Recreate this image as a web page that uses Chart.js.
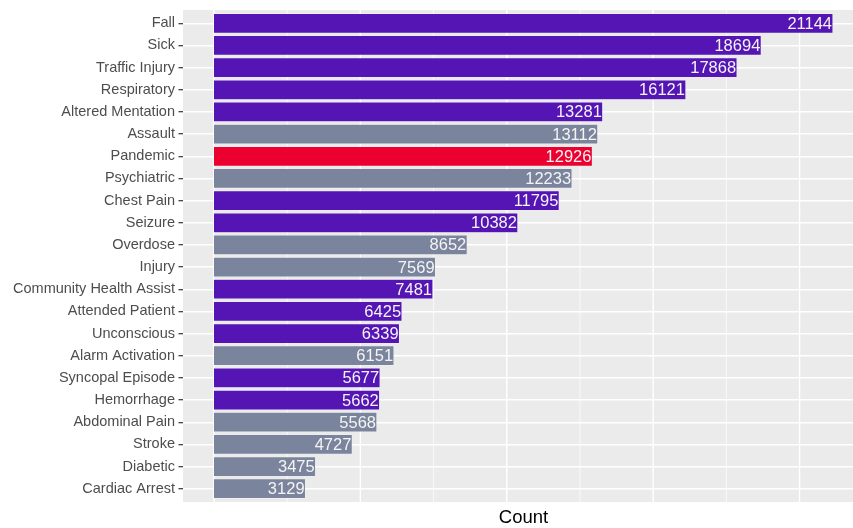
<!DOCTYPE html>
<html>
<head>
<meta charset="utf-8">
<script src="https://cdn.jsdelivr.net/npm/chart.js@4"></script>
<style>
  html, body { margin: 0; padding: 0; background: #fff; overflow: hidden; }
  #wrap { width: 864px; height: 528px; }
</style>
</head>
<body>
<div id="wrap"><canvas id="chart"></canvas></div>
<script>
const categories = ['Fall', 'Sick', 'Traffic Injury', 'Respiratory', 'Altered Mentation', 'Assault',
  'Pandemic', 'Psychiatric', 'Chest Pain', 'Seizure', 'Overdose', 'Injury', 'Community Health Assist',
  'Attended Patient', 'Unconscious', 'Alarm Activation', 'Syncopal Episode', 'Hemorrhage',
  'Abdominal Pain', 'Stroke', 'Diabetic', 'Cardiac Arrest'];
const counts = [21144, 18694, 17868, 16121, 13281, 13112, 12926, 12233, 11795, 10382, 8652, 7569,
  7481, 6425, 6339, 6151, 5677, 5662, 5568, 4727, 3475, 3129];
const groups = ['p', 'p', 'p', 'p', 'p', 'g', 'r', 'g', 'p', 'p', 'g', 'g',
  'p', 'p', 'p', 'g', 'p', 'p', 'g', 'g', 'g', 'g'];
const gridValues = [0, 2500, 5000, 7500, 10000, 12500, 15000, 17500, 20000];

const groupColors = { p: '#5514B4', g: '#7B849D', r: '#EB0030' };
const PANEL = '#EBEBEB';
const ROW_PAD = 2.2; // extra ggplot-style expansion above/below the rows

// grey panel + vertical grid lines, drawn before the datasets
const panelPlugin = {
    id: 'panel',
    beforeDraw(chart) {
        const ctx = chart.ctx;
        const area = chart.chartArea;
        const x = chart.scales.x;
        const top = area.top - ROW_PAD;
        const bottom = area.bottom + ROW_PAD;
        ctx.save();
        ctx.fillStyle = PANEL;
        ctx.fillRect(area.left, top, area.right - area.left, bottom - top);
        ctx.strokeStyle = '#ffffff';
        gridValues.forEach(v => {
            const px = x.getPixelForValue(v);
            ctx.lineWidth = v % 5000 === 0 ? 1.4 : 0.7;
            ctx.beginPath();
            ctx.moveTo(px, top);
            ctx.lineTo(px, bottom);
            ctx.stroke();
        });
        ctx.restore();
    }
};

// value labels inside the bar ends
const valueLabels = {
    id: 'valueLabels',
    afterDatasetsDraw(chart) {
        const ctx = chart.ctx;
        const meta = chart.getDatasetMeta(0);
        ctx.save();
        ctx.font = '16.5px "Liberation Sans", Arial, sans-serif';
        ctx.fillStyle = '#F4F4F4';
        ctx.textAlign = 'right';
        ctx.textBaseline = 'middle';
        meta.data.forEach((bar, i) => {
            ctx.fillText(String(counts[i]), bar.x - 1, bar.y + 1);
        });
        ctx.restore();
    }
};

new Chart(document.getElementById('chart'), {
    type: 'bar',
    data: {
        labels: categories,
        datasets: [{
            data: counts,
            backgroundColor: groups.map(g => groupColors[g]),
            borderColor: 'rgba(255,255,255,0.35)',
            borderWidth: 0.6,
            barPercentage: 0.9,
            categoryPercentage: 1.0
        }]
    },
    options: {
        indexAxis: 'y',
        responsive: true,
        maintainAspectRatio: false,
        animation: false,
        layout: { padding: { top: 7 + ROW_PAD, bottom: 0, left: 0, right: 0 } },
        plugins: {
            legend: { display: false },
            tooltip: { enabled: false }
        },
        scales: {
            x: {
                type: 'linear',
                min: -1057,
                max: 22201,
                border: { display: false },
                grid: { display: false, drawTicks: false },
                ticks: { display: false },
                title: {
                    display: true,
                    text: 'Count',
                    color: '#000',
                    font: { family: '"Liberation Sans", Arial, sans-serif', size: 18.5 },
                    padding: { top: 0, bottom: -1.5 }
                },
                afterFit(scale) { scale.height = 528 - 502 + ROW_PAD; }
            },
            y: {
                offset: true,
                border: { display: false },
                grid: {
                    offset: false,
                    color: '#ffffff',
                    lineWidth: 1.4,
                    tickColor: '#333333',
                    tickLength: 4.5,
                    tickWidth: 1.2
                },
                ticks: {
                    color: '#4D4D4D',
                    padding: 3.5,
                    autoSkip: false,
                    font: { family: '"Liberation Sans", Arial, sans-serif', size: 14.5 }
                },
                afterFit(scale) { scale.width = 183; }
            }
        }
    },
    plugins: [panelPlugin, valueLabels]
});
</script>
</body>
</html>
